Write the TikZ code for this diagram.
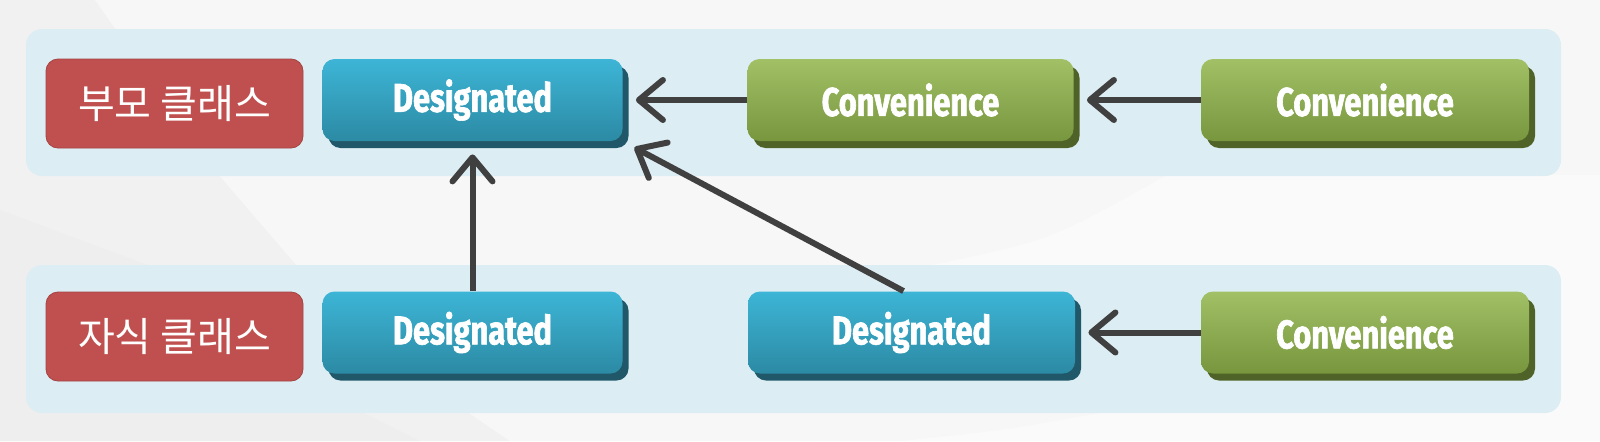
\documentclass[tikz,border=0pt]{standalone}
\usepackage{fontspec}
\usepackage{xcolor}
\usepackage{tikz}
\usetikzlibrary{arrows.meta,shadows}
\newfontfamily\krfont{Noto Sans CJK KR}
\newfontfamily\btnfont{Fira Sans}[FakeStretch=0.77,FakeBold=1.6]
\definecolor{labelred}{HTML}{C0504F}
\definecolor{desigtop}{HTML}{3DB5D6}
\definecolor{desigbot}{HTML}{2C8AA4}
\definecolor{desigshade}{HTML}{215869}
\definecolor{convtop}{HTML}{A2C066}
\definecolor{convbot}{HTML}{77963D}
\definecolor{convshade}{HTML}{4F6228}
\definecolor{panelblue}{HTML}{DCEDF3}
\definecolor{arrowgray}{HTML}{404040}
\definecolor{bgbase}{HTML}{F7F7F7}
\begin{document}
\begin{tikzpicture}[
  x=0.5pt,y=0.5pt,
  panel/.style={fill=panelblue,rounded corners=8pt},
  labelbox/.style={rectangle,rounded corners=6pt,fill=labelred,draw=labelred!85!black,line width=0.4pt,
    text=white,minimum width=128.5pt,minimum height=44.5pt,inner sep=0pt,font=\krfont\fontsize{20}{20}\selectfont},
  btn/.style={rectangle,rounded corners=6pt,text=white,minimum height=41pt,inner sep=0pt,
    font=\btnfont\bfseries\fontsize{20}{20}\selectfont},
  desig/.style={btn,top color=desigtop,bottom color=desigbot,minimum width=150pt,
    drop shadow={shadow xshift=3pt,shadow yshift=-3.5pt,fill=desigshade,opacity=1}},
  conv/.style={btn,top color=convtop,bottom color=convbot,minimum width=163pt,
    drop shadow={shadow xshift=3pt,shadow yshift=-3.5pt,fill=convshade,opacity=1}},
  arr/.style={draw=arrowgray,line width=3pt,shorten >=6.5pt,
    -{Straight Barb[length=12pt,width=20pt,line cap=round,line join=round]}}
]
\useasboundingbox (0,0) rectangle (1600,441);
% background
\fill[bgbase] (0,0) rectangle (1600,441);
\fill[gray!11] (0,441) -- (95,441) -- (219,266) -- (298,174) -- (469,28) -- (510,0) -- (0,0) -- cycle;
\fill[gray!6] (95,441) -- (200,441) -- (225,413) -- (365,266) -- (472,176) -- (745,28) -- (816,0) -- (510,0) -- (469,28) -- (298,174) -- (219,266) -- cycle;
\fill[gray!13] (0,231) -- (153,174) -- (300,60) -- (420,0) -- (0,0) -- cycle;
\fill[gray!4] (1167,266) .. controls (1050,200) .. (922,174) -- (1100,28) .. controls (1000,10) .. (900,0) -- (1600,0) -- (1600,266) -- cycle;
% panels
\fill[panel] (26,265) rectangle (1561,412);
\fill[panel] (26,28) rectangle (1561,176);

% parent row
\node[labelbox] (parentLabel) at (174.5,337.5) {부모 클래스};
\node[desig] (parentDesig) at (472.5,341) {Designated};
\node[conv] (parentConvA) at (910.5,341) {Convenience};
\node[conv,minimum width=164pt] (parentConvB) at (1365,341) {Convenience};

% child row
\node[labelbox] (childLabel) at (174.5,104.5) {자식 클래스};
\node[desig] (childDesigA) at (472.5,108.5) {Designated};
\node[desig,minimum width=163.5pt] (childDesigB) at (911.5,108.5) {Designated};
\node[conv,minimum width=164pt] (childConv) at (1365,108.5) {Convenience};

\draw[arr] (parentConvA) -- (parentDesig);
\draw[arr] (parentConvB) -- (parentConvA);
\draw[arr] (childConv) -- (childDesigB);
\draw[arr] (childDesigA.north) -- (parentDesig.south);
\draw[arr] ([xshift=-4pt]childDesigB.north) -- (parentDesig.south east);
\end{tikzpicture}
\end{document}
